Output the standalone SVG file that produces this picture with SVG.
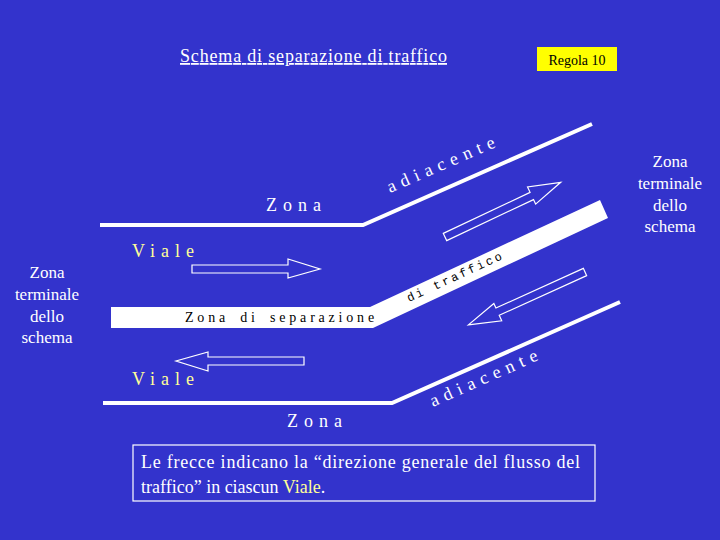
<svg xmlns="http://www.w3.org/2000/svg" width="720" height="540" viewBox="0 0 720 540">
<style>
.t{font-family:"Liberation Serif","Times New Roman",serif;fill:#fff}
.sp{letter-spacing:6px;font-size:18px}
.y{fill:#ffff99}
.ar{fill:none;stroke:#fff;stroke-width:1.2}
.ln{fill:none;stroke:#fff;stroke-width:4}
.term{font-family:"Liberation Serif","Times New Roman",serif;fill:#fff;font-size:17px;text-anchor:middle}
</style>
<defs>
<path id="arr" d="M0,-4 L96,-4 L96,-10 L128,0 L96,9 L96,4 L0,4 Z"/>
</defs>
<rect width="720" height="540" fill="#3333cc"/>
<g id="title">
<text class="t" x="180" y="62" font-size="18" textLength="267" text-decoration="underline">Schema di separazione di traffico</text>
</g>
<g id="regola">
<rect x="537" y="47" width="80" height="24" fill="#ffff00"/>
<text x="577" y="65" font-family="Liberation Serif,serif" font-size="14" text-anchor="middle" fill="#000">Regola 10</text>
</g>
<g id="connectors">
<polyline class="ln" points="100,225 363,225 592,124"/>
<polyline class="ln" points="103,403 392,403 620,302"/>
<polygon points="111,307 370,307 600,200 608,218 373,328 111,328" fill="#fff"/>
<use href="#arr" class="ar" transform="translate(192,269)"/>
<use href="#arr" class="ar" transform="translate(304,361) rotate(180)"/>
<use href="#arr" class="ar" transform="translate(445,237) rotate(-25.3)"/>
<use href="#arr" class="ar" transform="translate(585,272) rotate(155.6)"/>
</g>
<g id="zona-top">
<text class="t sp" x="266" y="211">Zona</text>
<text class="t sp" transform="translate(390,193) rotate(-23.5)">adiacente</text>
</g>
<g id="zona-bottom">
<text class="t sp" x="287" y="427">Zona</text>
<text class="t sp" transform="translate(433,407) rotate(-24)">adiacente</text>
</g>
<g id="viale-top"><text class="t sp y" x="132" y="257">Viale</text></g>
<g id="viale-bottom"><text class="t sp y" x="132" y="385">Viale</text></g>
<g id="separazione">
<text x="185" y="322" font-family="Liberation Serif,serif" font-size="14" fill="#000" letter-spacing="3.8" word-spacing="4">Zona di separazione</text>
<text transform="translate(409,302) rotate(-24.6)" font-family="Liberation Mono,monospace" font-size="12" fill="#000" letter-spacing="2.4">di  traffico</text>
</g>
<g id="term-left">
<text class="term" x="47" y="278">Zona</text>
<text class="term" x="47" y="300">terminale</text>
<text class="term" x="47" y="322">dello</text>
<text class="term" x="47" y="343">schema</text>
</g>
<g id="term-right">
<text class="term" x="670" y="167">Zona</text>
<text class="term" x="670" y="189">terminale</text>
<text class="term" x="670" y="211">dello</text>
<text class="term" x="670" y="232">schema</text>
</g>
<g id="note">
<rect x="133" y="445" width="462" height="56" fill="none" stroke="#fff" stroke-width="1.2"/>
<text class="t" x="141" y="468" font-size="18" textLength="439">Le frecce indicano la “direzione generale del flusso del</text>
<text class="t" x="141" y="493" font-size="18">traffico” in ciascun <tspan class="y">Viale</tspan>.</text>
</g>
</svg>
